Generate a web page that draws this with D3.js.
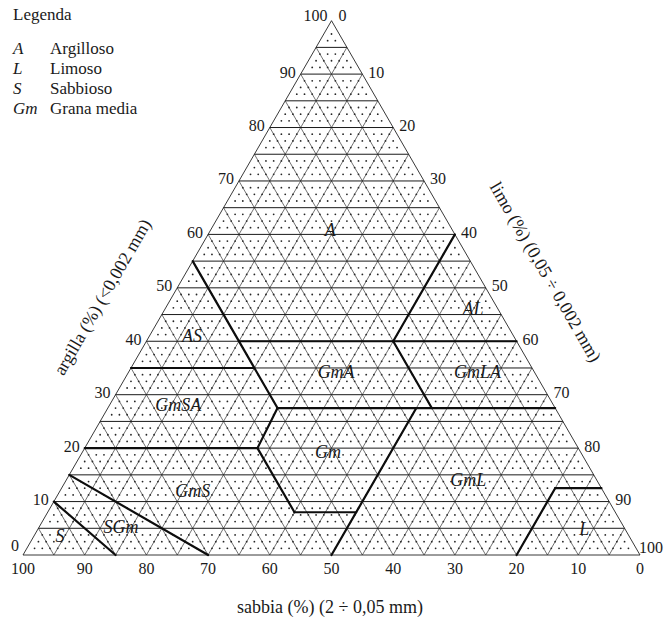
<!DOCTYPE html>
<html>
<head>
<meta charset="utf-8">
<script src="https://cdn.jsdelivr.net/npm/d3@7"></script>
<style>
  html, body { margin: 0; padding: 0; background: #fff; }
  svg { display: block; }
  text { font-family: "Liberation Serif", "DejaVu Serif", serif; fill: #1a1a1a; }
</style>
</head>
<body>
<svg id="chart" width="664" height="619"></svg>
<script>
// ---------- data ----------
const tickValues = [0, 10, 20, 30, 40, 50, 60, 70, 80, 90, 100];
const gridStep = 5;

const legendCodes = ["A", "L", "S", "Gm"];
const legendNames = ["Argilloso", "Limoso", "Sabbioso", "Grana media"];

// region labels: composition (clay %, silt %) where each name sits
const regionNames = ["A", "AL", "AS", "GmA", "GmLA", "GmSA", "Gm", "GmS", "GmL", "SGm", "S", "L"];
const regionClay  = [60.8, 45.9, 40.8, 34.1, 34.1, 27.9, 19.1, 11.8, 13.9, 5.2, 3.4, 4.7];
const regionSilt  = [19.4, 50.0, 7.0, 33.7, 56.6, 11.2, 39.9, 21.6, 65.2, 13.3, 4.3, 88.6];

// class boundaries: [clay, silt] start -> [clay, silt] end
const boundStartClay = [55, 60, 40, 35, 27.5, 40, 27.5, 20, 20, 8, 27.5, 0, 12.5, 10, 15];
const boundStartSilt = [0, 40, 15, 0, 27.5, 40, 27.5, 0, 28, 40, 50, 80, 80, 0, 0];
const boundEndClay   = [27.5, 40, 40, 35, 27.5, 27.5, 20, 20, 8, 8, 0, 12.5, 12.5, 0, 0];
const boundEndSilt   = [27.5, 40, 60, 20, 72.5, 52.5, 28, 28, 40, 50, 50, 80, 87.5, 15, 30];

const axisTitleClay = "argilla (%) (<0,002 mm)";
const axisTitleSilt = "limo (%) (0,05 ÷ 0,002 mm)";
const axisTitleSand = "sabbia (%) (2 ÷ 0,05 mm)";

// ---------- geometry ----------
const svg = d3.select("#chart");
const side = 617;
const x0 = 23, yBase = 555;
const h = side * Math.sqrt(3) / 2;
// horizontal position is driven by (silt + clay/2), vertical by clay
const xScale = d3.scaleLinear().domain([0, 100]).range([x0, x0 + side]);
const yScale = d3.scaleLinear().domain([0, 100]).range([yBase, yBase - h]);
const pt = (c, s) => [xScale(s + c / 2), yScale(c)];

// ---------- dots texture ----------
const dots = [];
const sub = 1.25;
for (let i = 0; i * sub <= 100; i++) {
  const c = i * sub;
  if (Math.abs(c % gridStep) < 1e-9) continue;
  for (let j = 0; (i + j) * sub <= 100; j++) {
    const s = j * sub;
    const sand = 100 - c - s;
    if (s < 0.3 || sand < 0.3) continue;
    dots.push(pt(c, s));
  }
}
svg.append("g").selectAll("circle").data(dots).join("circle")
  .attr("cx", d => d[0]).attr("cy", d => d[1]).attr("r", 0.9)
  .attr("fill", "#262626");

// ---------- grid ----------
const grid = svg.append("g");
const gv = d3.range(gridStep, 100, gridStep);
// diagonal lines (constant silt and constant sand)
gv.forEach(v => {
  const a = pt(0, v), b = pt(100 - v, v);
  grid.append("line").attr("x1", a[0]).attr("y1", a[1]).attr("x2", b[0]).attr("y2", b[1])
    .attr("stroke", "#333").attr("stroke-width", 0.7);
  const c1 = pt(0, 100 - v), d1 = pt(100 - v, 0);
  grid.append("line").attr("x1", c1[0]).attr("y1", c1[1]).attr("x2", d1[0]).attr("y2", d1[1])
    .attr("stroke", "#333").attr("stroke-width", 0.7);
});
// horizontal lines (constant clay)
gv.forEach(v => {
  const a = pt(v, 0), b = pt(v, 100 - v);
  grid.append("line").attr("x1", a[0]).attr("y1", a[1]).attr("x2", b[0]).attr("y2", b[1])
    .attr("stroke", "#1a1a1a").attr("stroke-width", 1);
});
// outline
const corners = [pt(0, 0), pt(100, 0), pt(0, 100)];
svg.append("path").attr("d", d3.line()(corners) + "Z")
  .attr("fill", "none").attr("stroke", "#222").attr("stroke-width", 0.9);

// ---------- class boundaries ----------
svg.append("g").selectAll("line").data(boundStartClay.map((c, i) => i)).join("line")
  .attr("x1", i => pt(boundStartClay[i], boundStartSilt[i])[0])
  .attr("y1", i => pt(boundStartClay[i], boundStartSilt[i])[1])
  .attr("x2", i => pt(boundEndClay[i], boundEndSilt[i])[0])
  .attr("y2", i => pt(boundEndClay[i], boundEndSilt[i])[1])
  .attr("stroke", "#0d0d0d").attr("stroke-width", 2.2).attr("stroke-linecap", "round");

// ---------- region labels ----------
svg.append("g").selectAll("text").data(regionNames).join("text")
  .attr("x", (d, i) => pt(regionClay[i], regionSilt[i])[0])
  .attr("y", (d, i) => pt(regionClay[i], regionSilt[i])[1] + 5.5)
  .attr("text-anchor", "middle")
  .attr("font-style", "italic").attr("font-size", 18)
  .text(d => d);

// ---------- tick labels ----------
const tickG = svg.append("g").attr("font-size", 16);
// clay (left edge)
tickG.selectAll(".tl").data(tickValues).join("text").attr("class", "tl")
  .attr("x", v => pt(v, 0)[0] - (v === 0 || v === 100 ? 4 : 5))
  .attr("y", v => pt(v, 0)[1] + (v === 0 ? -4.5 : (v === 100 ? 0 : 3.5)))
  .attr("text-anchor", "end").text(v => v);
// silt (right edge)
tickG.selectAll(".tr").data(tickValues.filter(v => v < 100)).join("text").attr("class", "tr")
  .attr("x", v => pt(100 - v, v)[0] + (v === 0 ? 7 : 6))
  .attr("y", v => pt(100 - v, v)[1] + (v === 0 ? 0 : 3.5))
  .attr("text-anchor", "start").text(v => v);
tickG.append("text")
  .attr("x", 663).attr("y", pt(0, 100)[1] - 2.5)
  .attr("text-anchor", "end").text(tickValues[tickValues.length - 1]);
// sand (base)
tickG.selectAll(".tb").data(tickValues).join("text").attr("class", "tb")
  .attr("x", v => pt(0, 100 - v)[0])
  .attr("y", yBase + 18.5)
  .attr("text-anchor", "middle").text(v => v);

// ---------- axis titles ----------
svg.append("text").attr("transform", "translate(104,298) rotate(-60)")
  .attr("text-anchor", "middle").attr("dominant-baseline", "middle")
  .attr("font-size", 18).text(axisTitleClay);
svg.append("text").attr("transform", "translate(544,273) rotate(60)")
  .attr("text-anchor", "middle").attr("dominant-baseline", "middle")
  .attr("font-size", 18).text(axisTitleSilt);
svg.append("text").attr("x", 330).attr("y", 613)
  .attr("text-anchor", "middle").attr("font-size", 18).text(axisTitleSand);

// ---------- legend ----------
const lg = svg.append("g").attr("font-size", 17);
lg.append("text").attr("x", 13).attr("y", 20).text("Legenda");
lg.selectAll(".lc").data(legendCodes).join("text").attr("class", "lc")
  .attr("x", 13).attr("y", (d, i) => 54 + i * 20)
  .attr("font-style", "italic").text(d => d);
lg.selectAll(".ln").data(legendNames).join("text").attr("class", "ln")
  .attr("x", 50).attr("y", (d, i) => 54 + i * 20)
  .text(d => d);
</script>
</body>
</html>
